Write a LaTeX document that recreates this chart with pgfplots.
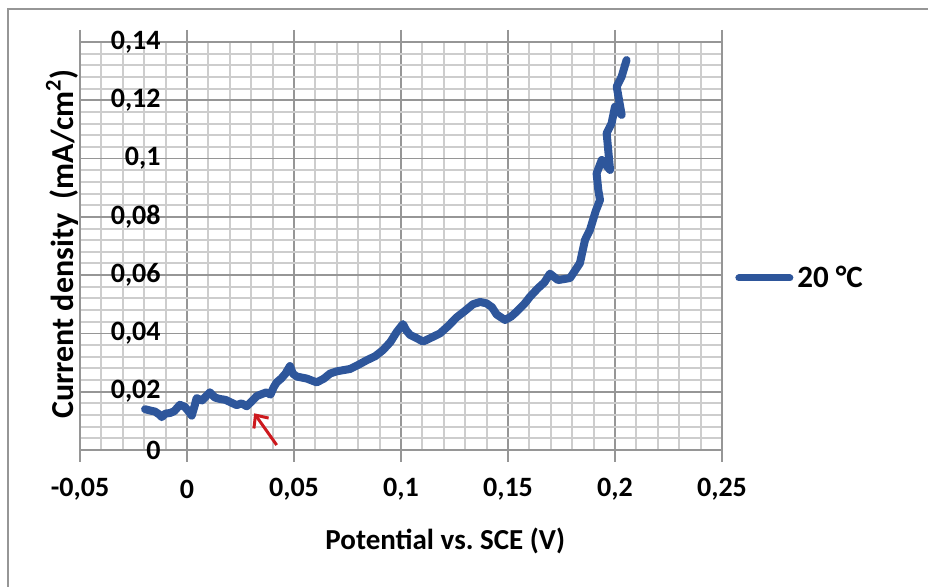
\documentclass[border=0pt]{standalone}
\usepackage{fontspec}
\setmainfont{Carlito}
\usepackage{pgfplots}
\pgfplotsset{compat=1.18}
\usetikzlibrary{arrows.meta}
\definecolor{lineblue}{RGB}{46,86,155}
\definecolor{majgrid}{RGB}{150,150,150}
\definecolor{mingrid}{RGB}{205,205,205}
\definecolor{arrowred}{RGB}{205,25,30}
\definecolor{framegray}{RGB}{150,150,150}
\begin{document}
\begin{tikzpicture}
\path[use as bounding box] (0,0) rectangle (464pt,293.5pt);
\draw[framegray, line width=1pt] (4pt,0pt) -- (4pt,289pt) -- (464pt,289pt);
\begin{axis}[
  at={(40pt,68.5pt)}, anchor=south west,
  scale only axis, width=321pt, height=204pt,
  xmin=-0.05, xmax=0.25, ymin=0, ymax=0.14,
  xtick={-0.05,0,0.05,0.1,0.15,0.2,0.25},
  xticklabels={{-0,05},{0},{0,05},{0,1},{0,15},{0,2},{0,25}},
  ytick={0,0.02,0.04,0.06,0.08,0.1,0.12,0.14},
  yticklabels={{0},{0,02},{0,04},{0,06},{0,08},{0,1},{0,12},{0,14}},
  minor x tick num=4, minor y tick num=4,
  grid=both,
  major grid style={majgrid, line width=0.8pt},
  minor grid style={mingrid, line width=1pt},
  axis line style={majgrid, line width=0.8pt},
  tick align=outside,
  xtick style={majgrid, line width=0.8pt},
  major tick length=6pt,
  minor tick length=0pt,
  ytick style={draw=none},
  tick label style={font=\fontsize{14}{16}\selectfont\bfseries},
  yticklabel style={anchor=east, inner sep=0pt, xshift=46.5pt},
  xticklabel style={anchor=center, inner sep=0pt, yshift=-13.5pt},
  xlabel={Potential vs.\ SCE (V)},
  ylabel={Current density\ \ (mA/cm\textsuperscript{2})},
  xlabel style={font=\fontsize{14.5}{16}\selectfont\bfseries, at={(axis description cs:0.569,-0.223)}, anchor=center},
  ylabel style={font=\fontsize{16}{18}\selectfont\bfseries, at={(axis description cs:-0.028,0.505)}, anchor=center},
  legend style={at={(axis description cs:1.0202,0.4216)}, anchor=west, draw=none, fill=none, inner sep=0pt, font=\fontsize{15.5}{17}\selectfont\bfseries},
  legend image code/.code={\draw[#1, line width=3.5pt, line cap=round] (1.75pt,0pt) -- (27.25pt,0pt);},
  clip=false,
]
\addplot[lineblue, line width=4pt, line join=round, line cap=round] coordinates {
(-0.0196,0.0140) (-0.0170,0.0135) (-0.0150,0.0132) (-0.0130,0.0122) (-0.0118,0.0113)
(-0.0100,0.0125) (-0.0079,0.0127) (-0.0060,0.0133) (-0.0033,0.0155) (-0.0010,0.0148)
(0.0010,0.0130) (0.0022,0.0118) (0.0035,0.0150) (0.0045,0.0178) (0.0070,0.0170)
(0.0090,0.0185) (0.0107,0.0198) (0.0130,0.0180) (0.0154,0.0175) (0.0180,0.0172)
(0.0200,0.0165) (0.0232,0.0154) (0.0255,0.0160) (0.0279,0.0150) (0.0300,0.0165)
(0.0326,0.0185) (0.0350,0.0192) (0.0372,0.0198) (0.0390,0.0190) (0.0405,0.0215)
(0.0419,0.0232) (0.0440,0.0245) (0.0460,0.0262) (0.0481,0.0288) (0.0495,0.0262)
(0.0513,0.0252) (0.0560,0.0245) (0.0606,0.0232) (0.0640,0.0245) (0.0668,0.0262)
(0.0700,0.0270) (0.0762,0.0278) (0.0800,0.0292) (0.0840,0.0308) (0.0880,0.0322)
(0.0916,0.0343) (0.0950,0.0370) (0.0980,0.0405) (0.1009,0.0432) (0.1025,0.0410)
(0.1042,0.0395) (0.1070,0.0385) (0.1103,0.0372) (0.1140,0.0385) (0.1182,0.0400)
(0.1220,0.0425) (0.1260,0.0455) (0.1300,0.0478) (0.1336,0.0500) (0.1370,0.0508)
(0.1400,0.0503) (0.1425,0.0490) (0.1447,0.0465) (0.1486,0.0446) (0.1515,0.0458)
(0.1541,0.0475) (0.1575,0.0500) (0.1603,0.0526) (0.1640,0.0555) (0.1670,0.0575)
(0.1696,0.0605) (0.1734,0.0583) (0.1790,0.0590) (0.1836,0.0641) (0.1860,0.0721)
(0.1883,0.0755) (0.1910,0.0820) (0.1930,0.0858) (0.1922,0.0892) (0.1914,0.0949)
(0.1938,0.0995) (0.1977,0.0961) (0.1961,0.1087) (0.1984,0.1121) (0.2000,0.1178)
(0.2031,0.1150) (0.2008,0.1247) (0.2031,0.1281) (0.2054,0.1338)
};
\addlegendentry{20 °C}
\draw[arrowred, line width=1.5pt, -{Straight Barb[length=5pt,width=9pt]}] (axis cs:0.0419,0.0017) -- (axis cs:0.0314,0.0126);
\end{axis}
\end{tikzpicture}
\end{document}
